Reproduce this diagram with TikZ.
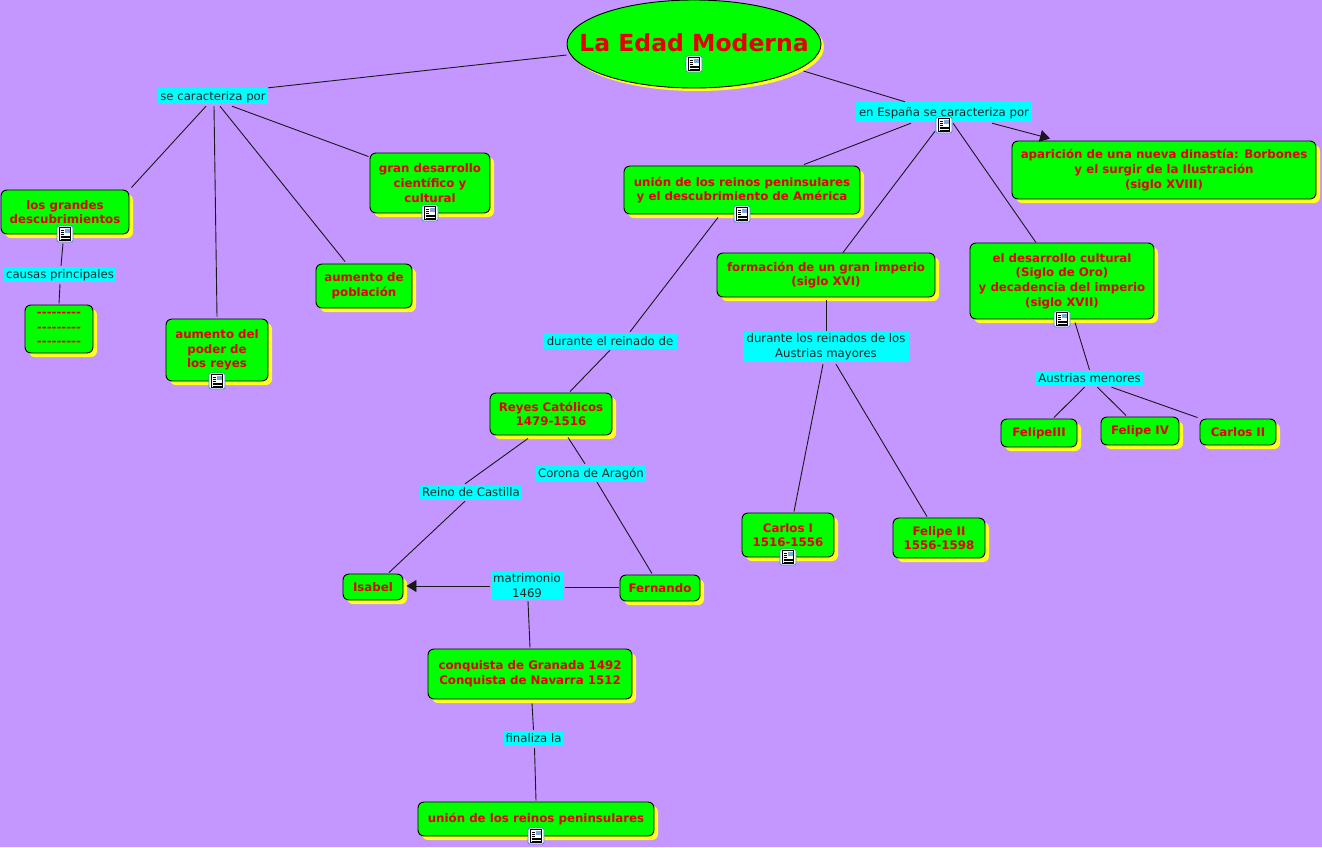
\documentclass[tikz,border=0pt]{standalone}
\usepackage{fontspec}
\setmainfont{DejaVu Sans}
\usetikzlibrary{arrows.meta, shapes.geometric, shadows}
\definecolor{fondo}{HTML}{C496FF}
\definecolor{verde}{HTML}{00FF00}
\definecolor{rojo}{HTML}{E60000}
\definecolor{celeste}{HTML}{00FFFF}
\definecolor{amarillo}{HTML}{FFFF22}
\definecolor{iconblue}{HTML}{4A80C8}
\newcommand{\rayas}{-{}-{}-{}-{}-{}-{}-{}-{}-}

\begin{document}
\begin{tikzpicture}[
  x=1pt, y=-1pt,
  conc/.style={rectangle, rounded corners=6pt, draw=black, fill=verde, align=center,
              inner sep=0pt, line width=0.9pt, text=rojo, font=\fontsize{11.8}{14.6}\selectfont\bfseries,
              general shadow={shadow xshift=4pt, shadow yshift=-4pt, fill=amarillo}},
  lbl/.style={rectangle, fill=celeste, align=center, inner sep=0pt,
              text=black!85, font=\fontsize{11.7}{15}\selectfont},
  uno/.style={lbl, text height=11pt, text depth=3pt},
  link/.style={line width=0.9pt, black!90},
  arr/.style={link, -{Triangle[length=10pt, width=12pt]}},
  docicon/.pic={
    \draw[iconblue, fill=white, rounded corners=2pt, line width=0.7pt] (-8,-8) rectangle (8,8);
    \draw[black, fill=white, line width=0.7pt] (-5.5,-6.5) rectangle (5.5,6.5);
    \fill[iconblue!70] (0,-5.5) rectangle (4.5,-1);
    \foreach \yy in {-4,-2,0} \draw[black, line width=0.5pt] (-4.5,\yy) -- (-1,\yy);
    \foreach \yy in {2,3.7,5.2} \draw[black, line width=0.5pt] (-4.5,\yy) -- (4.5,\yy);
  }
]
\useasboundingbox[fill=fondo] (0,0) rectangle (1322,847);
% conceptos
\node (titulo) [ellipse, draw=black, fill=verde, inner sep=0pt, line width=0.9pt, minimum width=254pt,
  minimum height=88pt, general shadow={shadow xshift=3pt, shadow yshift=-3pt, fill=amarillo},
  label={[text=rojo, font=\fontsize{23.5}{24}\selectfont\bfseries, yshift=1pt]center:La Edad Moderna}] at (694,44) {};
\node (grandes) [conc, minimum width=128pt, minimum height=44pt] at (65,212) {los grandes\\descubrimientos};
\node (puntos) [conc, minimum width=68pt, minimum height=48pt] at (59,329) {\rayas\\\rayas\\\rayas};
\node (poder) [conc, minimum width=102pt, minimum height=62pt] at (217,350) {aumento del\\poder de\\los reyes};
\node (poblacion) [conc, minimum width=96pt, minimum height=44pt] at (364,286) {aumento de\\población};
\node (cientifico) [conc, minimum width=120pt, minimum height=60pt] at (430,183) {gran desarrollo\\científico y\\cultural};
\node (union) [conc, minimum width=236pt, minimum height=48pt] at (742,190) {unión de los reinos peninsulares\\y el descubrimiento de América};
\node (imperio) [conc, minimum width=218pt, minimum height=44pt] at (826,275) {formación de un gran imperio\\(siglo XVI)};
\node (cultura) [conc, minimum width=184pt, minimum height=76pt] at (1062,281) {el desarrollo cultural\\(Siglo de Oro)\\y decadencia del imperio\\(siglo XVII)};
\node (borbones) [conc, minimum width=304pt, minimum height=58pt] at (1164,170) {aparición de una nueva dinastía: Borbones\\y el surgir de la Ilustración\\(siglo XVIII)};
\node (reyes) [conc, minimum width=122pt, minimum height=42pt] at (551,414) {Reyes Católicos\\1479-1516};
\node (isabel) [conc, minimum width=60pt, minimum height=26pt] at (373,587) {Isabel};
\node (fernando) [conc, minimum width=80pt, minimum height=26pt] at (660,588) {Fernando};
\node (conquista) [conc, minimum width=204pt, minimum height=50pt] at (530,674) {conquista de Granada 1492\\Conquista de Navarra 1512};
\node (peninsula) [conc, minimum width=236pt, minimum height=34pt] at (536,819) {unión de los reinos peninsulares};
\node (carlosuno) [conc, minimum width=92pt, minimum height=44pt] at (788,535) {Carlos I\\1516-1556};
\node (felipedos) [conc, minimum width=92pt, minimum height=40pt] at (939,538) {Felipe II\\1556-1598};
\node (felipetres) [conc, minimum width=76pt, minimum height=28pt] at (1039,433) {FelipeIII};
\node (felipecuatro) [conc, minimum width=78pt, minimum height=28pt] at (1140,431) {Felipe IV};
\node (carlosdos) [conc, minimum width=76pt, minimum height=26pt] at (1238,432) {Carlos II};
% enlaces
\node (secar) [uno, minimum width=110pt, minimum height=16pt] at (213,96) {se caracteriza por};
\node (espana) [uno, minimum width=176pt, minimum height=20pt] at (944,112) {en España se caracteriza por};
\node (causas) [uno, minimum width=112pt, minimum height=15pt] at (60,274.5) {causas principales};
\node (reinado) [uno, minimum width=134pt, minimum height=16pt] at (610,341) {durante el reinado de};
\node (mayores) [lbl, minimum width=166pt, minimum height=30pt] at (826,347) {durante los reinados de los\\Austrias mayores};
\node (menores) [uno, minimum width=107pt, minimum height=15pt] at (1089.5,378.5) {Austrias menores};
\node (aragon) [uno, minimum width=110pt, minimum height=16pt] at (591,473) {Corona de Aragón};
\node (castilla) [uno, minimum width=102pt, minimum height=15pt] at (471,492.5) {Reino de Castilla};
\node (matrimonio) [lbl, minimum width=72pt, minimum height=27pt] at (527,585.5) {matrimonio\\1469};
\node (finaliza) [uno, minimum width=59pt, minimum height=15pt] at (533.5,738.5) {finaliza la};
% conectores
\draw[link] ([yshift=-11pt]titulo.west) -- (secar.north east);
\draw[link] ([xshift=-18pt,yshift=-27pt]titulo.east) -- ([xshift=-39pt]espana.north);
\draw[link] ([xshift=-7pt,yshift=-2pt]secar.south) -- ([xshift=2pt,yshift=2pt]grandes.north east);
\draw[link] ([xshift=1pt,yshift=-2pt]secar.south) -- ([yshift=2pt]poder.north);
\draw[link] ([xshift=7pt,yshift=-2pt]secar.south) -- ([xshift=-19pt,yshift=2pt]poblacion.north);
\draw[link] ([xshift=19pt,yshift=-2pt]secar.south) -- ([xshift=-1pt,yshift=-4pt]cientifico.north west);
\draw[link] ([xshift=-2pt,yshift=-9pt]grandes.south) -- ([xshift=1pt,yshift=1pt]causas.north);
\draw[link] ([yshift=-2pt]causas.south) -- ([yshift=1pt]puntos.north);
\draw[link] ([xshift=-33pt,yshift=-1pt]espana.south) -- ([xshift=62pt,yshift=1pt]union.north);
\draw[link] ([xshift=-9pt,yshift=-9pt]espana.south) -- ([xshift=17pt]imperio.north);
\draw[link] ([xshift=9pt,yshift=-1pt]espana.south) -- ([xshift=-26pt]cultura.north);
\draw[arr] ([xshift=48pt,yshift=-1pt]espana.south) -- ([xshift=-114pt,yshift=2pt]borbones.north);
\draw[link] ([xshift=-24pt,yshift=-3pt]union.south) -- ([xshift=20pt,yshift=1pt]reinado.north);
\draw[link] ([yshift=-1pt]reinado.south) -- ([xshift=19pt,yshift=1pt]reyes.north);
\draw[link] ([yshift=-3pt]imperio.south) -- ([yshift=1pt]mayores.north);
\draw[link] ([xshift=-3pt,yshift=-2pt]mayores.south) -- ([xshift=6pt,yshift=1pt]carlosuno.north);
\draw[link] ([xshift=10pt,yshift=-2pt]mayores.south) -- ([xshift=-12pt,yshift=1pt]felipedos.north);
\draw[link] ([xshift=13pt,yshift=-3pt]cultura.south) -- ([yshift=1pt]menores.north);
\draw[link] ([xshift=-5pt,yshift=-1pt]menores.south) -- ([xshift=15pt,yshift=1pt]felipetres.north);
\draw[link] ([xshift=8pt,yshift=-1pt]menores.south) -- ([xshift=-14pt,yshift=1pt]felipecuatro.north);
\draw[link] ([xshift=22pt,yshift=-1pt]menores.south) -- ([xshift=-2pt,yshift=1pt]carlosdos.north west);
\draw[link] ([xshift=-23pt,yshift=-3pt]reyes.south) -- ([xshift=-6pt,yshift=1pt]castilla.north);
\draw[link] ([xshift=-6pt,yshift=-1pt]castilla.south) -- ([xshift=16pt,yshift=1pt]isabel.north);
\draw[link] ([xshift=17pt,yshift=-2pt]reyes.south) -- ([xshift=-6pt,yshift=1pt]aragon.north);
\draw[link] ([xshift=6pt,yshift=-1pt]aragon.south) -- ([xshift=-8pt,yshift=1pt]fernando.north);
\draw[arr] ([xshift=-1pt,yshift=-0.5pt]matrimonio.west) -- ([xshift=3pt,yshift=1pt]isabel.east);
\draw[link] ([xshift=2pt,yshift=-1.5pt]matrimonio.east) -- ([xshift=-1pt,yshift=1pt]fernando.west);
\draw[link] ([xshift=1pt,yshift=-2pt]matrimonio.south) -- ([yshift=1pt]conquista.north);
\draw[link] ([xshift=2pt,yshift=-4pt]conquista.south) -- ([yshift=1pt]finaliza.north);
\draw[link] ([xshift=1pt,yshift=-2pt]finaliza.south) -- ([yshift=1pt]peninsula.north);
% iconos
\foreach \posx/\posy in {694/64, 65/234, 430/213, 217/381, 742/214, 944/125, 1062/319, 788/557, 536/836}
  \pic at (\posx,\posy) {docicon};
\end{tikzpicture}
\end{document}
